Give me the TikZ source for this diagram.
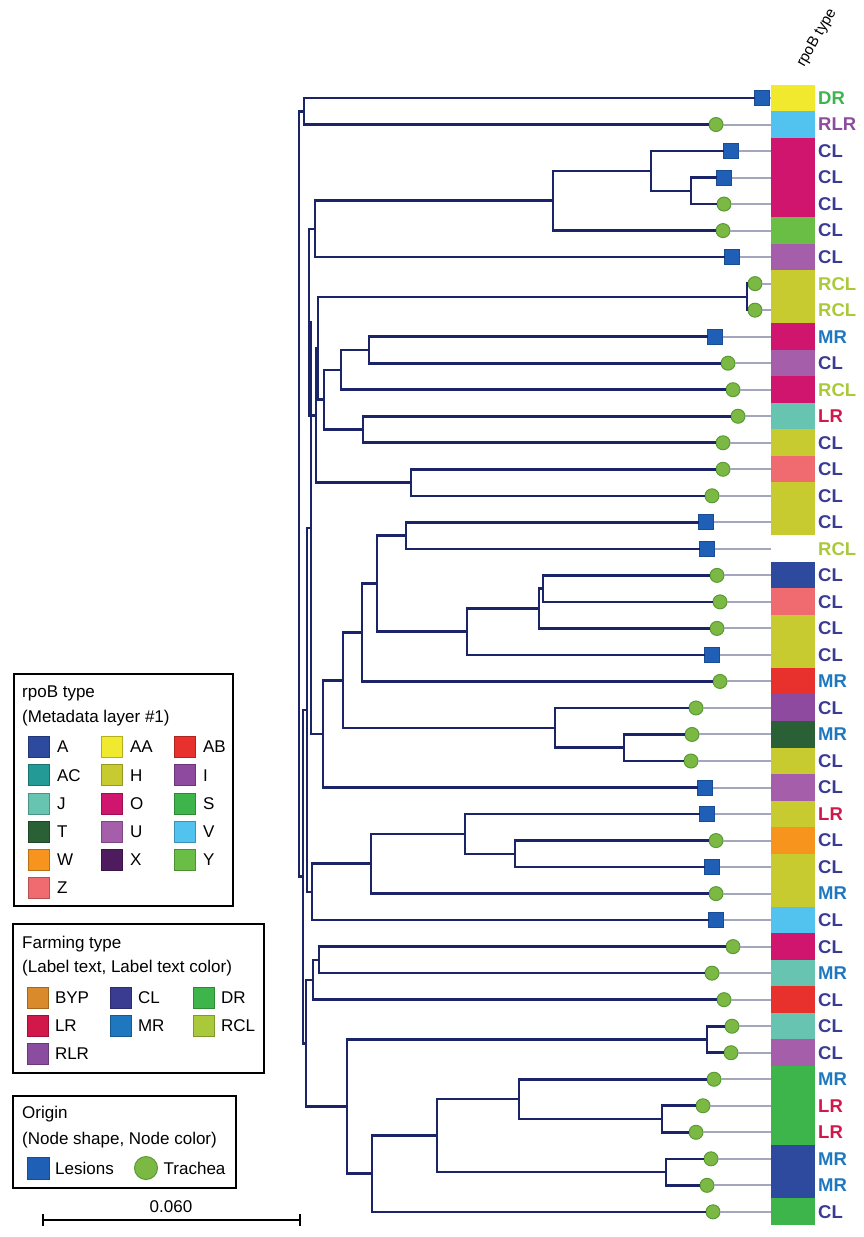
\documentclass[tikz,border=0pt]{standalone}
\usepackage{fontspec}
\setmainfont{Liberation Sans}
\usetikzlibrary{positioning}

% rpoB type colours
\definecolor{rA}{HTML}{2E4A9E}
\definecolor{rAA}{HTML}{F0E92E}
\definecolor{rAB}{HTML}{E8302C}
\definecolor{rAC}{HTML}{239A96}
\definecolor{rH}{HTML}{C8CB2F}
\definecolor{rI}{HTML}{8E4A9E}
\definecolor{rJ}{HTML}{66C4B0}
\definecolor{rO}{HTML}{D0156E}
\definecolor{rS}{HTML}{3DB54A}
\definecolor{rT}{HTML}{2A6035}
\definecolor{rU}{HTML}{A55FAA}
\definecolor{rV}{HTML}{52C3EF}
\definecolor{rW}{HTML}{F7941D}
\definecolor{rX}{HTML}{4D1B5E}
\definecolor{rY}{HTML}{6ABD45}
\definecolor{rZ}{HTML}{F06B6F}
% farming type colours
\definecolor{fBYP}{HTML}{D98A2B}
\definecolor{fCL}{HTML}{3A3C91}
\definecolor{fDR}{HTML}{3DB54A}
\definecolor{fLR}{HTML}{D2174B}
\definecolor{fMR}{HTML}{1E77BF}
\definecolor{fRCL}{HTML}{AAC93A}
\definecolor{fRLR}{HTML}{8B4D9F}
% tree
\definecolor{treeblue}{HTML}{1B2468}
\definecolor{stemgrey}{HTML}{A3A6BD}
\definecolor{trachgreen}{HTML}{7CB944}
\definecolor{trachedge}{HTML}{5A9A34}
\definecolor{lesblue}{HTML}{1F5FB5}
\definecolor{lesedge}{HTML}{184C94}

\tikzset{
  branch/.style = {draw=treeblue, line width=2.6pt},
  stem/.style = {draw=stemgrey, line width=2pt},
  trachea/.style = {circle, fill=trachgreen, draw=trachedge, line width=1pt,
                    minimum size=#1, inner sep=0pt, outer sep=0pt},
  trachea/.default = 14pt,
  lesion/.style = {rectangle, fill=lesblue, draw=lesedge, line width=0.8pt,
                   minimum size=#1, inner sep=0pt, outer sep=0pt},
  lesion/.default = 15pt,
  cell/.style = {rectangle, fill=#1, minimum width=44pt, minimum height=27pt,
                 inner sep=0pt, outer sep=0pt},
  farm/.style = {anchor=west, text=#1, inner sep=0pt, xshift=3pt,
                 font=\fontsize{18.5}{18.5}\selectfont\bfseries},
  swatch/.style = {rectangle, fill=#1, draw=#1!75!black, line width=0.6pt,
                   minimum size=21pt, inner sep=0pt},
  legtext/.style = {anchor=west, inner sep=0pt, font=\fontsize{17}{17}\selectfont},
  legbox/.style = {draw=black, line width=1.2pt}
}

\begin{document}
\begin{tikzpicture}[x=1pt, y=-1pt]
	\def \h{26.52}
	\def \yo{71.48}
	\useasboundingbox (0,0) rectangle (863,1237);

	% row: number, tip x, origin, rpoB colour, farming label, label colour
	\def\leaf#1#2#3#4#5#6{%
		\node[#3] (r#1) at (#2,\yo+#1*\h) {};
		\node[cell=#4] (b#1) at (793,\yo+#1*\h) {};
		\draw[stem] (r#1) -- (b#1.west);
		\node[farm=#6] (f#1) at (b#1.east) {#5};
	}

	\node[rotate=60, font=\fontsize{15}{15}\selectfont] (hdr) at (817,38) {rpoB type};

	% Leaves
	\leaf{1}{762}{lesion}{rAA}{DR}{fDR}
	\leaf{2}{716}{trachea}{rV}{RLR}{fRLR}
	\leaf{3}{731}{lesion}{rO}{CL}{fCL}
	\leaf{4}{724}{lesion}{rO}{CL}{fCL}
	\leaf{5}{724}{trachea}{rO}{CL}{fCL}
	\leaf{6}{723}{trachea}{rY}{CL}{fCL}
	\leaf{7}{732}{lesion}{rU}{CL}{fCL}
	\leaf{8}{755}{trachea}{rH}{RCL}{fRCL}
	\leaf{9}{755}{trachea}{rH}{RCL}{fRCL}
	\leaf{10}{715}{lesion}{rO}{MR}{fMR}
	\leaf{11}{728}{trachea}{rU}{CL}{fCL}
	\leaf{12}{733}{trachea}{rO}{RCL}{fRCL}
	\leaf{13}{738}{trachea}{rJ}{LR}{fLR}
	\leaf{14}{723}{trachea}{rH}{CL}{fCL}
	\leaf{15}{723}{trachea}{rZ}{CL}{fCL}
	\leaf{16}{712}{trachea}{rH}{CL}{fCL}
	\leaf{17}{706}{lesion}{rH}{CL}{fCL}
	\leaf{18}{707}{lesion}{white}{RCL}{fRCL}
	\leaf{19}{717}{trachea}{rA}{CL}{fCL}
	\leaf{20}{720}{trachea}{rZ}{CL}{fCL}
	\leaf{21}{717}{trachea}{rH}{CL}{fCL}
	\leaf{22}{712}{lesion}{rH}{CL}{fCL}
	\leaf{23}{720}{trachea}{rAB}{MR}{fMR}
	\leaf{24}{696}{trachea}{rI}{CL}{fCL}
	\leaf{25}{692}{trachea}{rT}{MR}{fMR}
	\leaf{26}{691}{trachea}{rH}{CL}{fCL}
	\leaf{27}{705}{lesion}{rU}{CL}{fCL}
	\leaf{28}{707}{lesion}{rH}{LR}{fLR}
	\leaf{29}{716}{trachea}{rW}{CL}{fCL}
	\leaf{30}{712}{lesion}{rH}{CL}{fCL}
	\leaf{31}{716}{trachea}{rH}{MR}{fMR}
	\leaf{32}{716}{lesion}{rV}{CL}{fCL}
	\leaf{33}{733}{trachea}{rO}{CL}{fCL}
	\leaf{34}{712}{trachea}{rJ}{MR}{fMR}
	\leaf{35}{724}{trachea}{rAB}{CL}{fCL}
	\leaf{36}{732}{trachea}{rJ}{CL}{fCL}
	\leaf{37}{731}{trachea}{rU}{CL}{fCL}
	\leaf{38}{714}{trachea}{rS}{MR}{fMR}
	\leaf{39}{703}{trachea}{rS}{LR}{fLR}
	\leaf{40}{696}{trachea}{rS}{LR}{fLR}
	\leaf{41}{711}{trachea}{rA}{MR}{fMR}
	\leaf{42}{707}{trachea}{rA}{MR}{fMR}
	\leaf{43}{713}{trachea}{rS}{CL}{fCL}

	% Internal nodes
	\coordinate (n304) at (304,\yo+1.5*\h);
	\coordinate (n691) at (691,\yo+4.5*\h);
	\coordinate (n651) at (651,\yo+3.75*\h);
	\coordinate (n553) at (553,\yo+4.875*\h);
	\coordinate (n315) at (315,\yo+5.9375*\h);
	\coordinate (n747) at (747,\yo+8.5*\h);
	\coordinate (n369) at (369,\yo+10.5*\h);
	\coordinate (n341) at (341,\yo+11.25*\h);
	\coordinate (n363) at (363,\yo+13.5*\h);
	\coordinate (n324) at (324,\yo+12.375*\h);
	\coordinate (n318) at (318,\yo+10.4375*\h);
	\coordinate (n411) at (411,\yo+15.5*\h);
	\coordinate (n316) at (316,\yo+12.969*\h);
	\coordinate (n309) at (309,\yo+9.453*\h);
	\coordinate (n406) at (406,\yo+17.5*\h);
	\coordinate (n543) at (543,\yo+19.5*\h);
	\coordinate (n539) at (539,\yo+20.25*\h);
	\coordinate (n467) at (467,\yo+21.125*\h);
	\coordinate (n377) at (377,\yo+19.3125*\h);
	\coordinate (n362) at (362,\yo+21.156*\h);
	\coordinate (n624) at (624,\yo+25.5*\h);
	\coordinate (n555) at (555,\yo+24.75*\h);
	\coordinate (n343) at (343,\yo+22.953*\h);
	\coordinate (n323) at (323,\yo+24.977*\h);
	\coordinate (n311) at (311,\yo+17.215*\h);
	\coordinate (n515) at (515,\yo+29.5*\h);
	\coordinate (n465) at (465,\yo+28.75*\h);
	\coordinate (n371) at (371,\yo+29.875*\h);
	\coordinate (n312) at (312,\yo+30.9375*\h);
	\coordinate (n307) at (307,\yo+24.076*\h);
	\coordinate (n319) at (319,\yo+33.5*\h);
	\coordinate (n313) at (313,\yo+34.25*\h);
	\coordinate (n707) at (707,\yo+36.5*\h);
	\coordinate (n662) at (662,\yo+39.5*\h);
	\coordinate (n519) at (519,\yo+38.75*\h);
	\coordinate (n666) at (666,\yo+41.5*\h);
	\coordinate (n437) at (437,\yo+40.125*\h);
	\coordinate (n372) at (372,\yo+41.5625*\h);
	\coordinate (n347) at (347,\yo+39.031*\h);
	\coordinate (n306) at (306,\yo+36.641*\h);
	\coordinate (n303) at (303,\yo+30.358*\h);
	\coordinate (n299) at (299,\yo+15.929*\h);

	% Branches (rows 1-2)
	\draw[branch] (r1) -| (n304) |- (r2);
	% Branches (rows 3-7)
	\draw[branch] (r4) -| (n691) |- (r5);
	\draw[branch] (r3) -| (n651) |- (n691);
	\draw[branch] (n651) -| (n553) |- (r6);
	\draw[branch] (n553) -| (n315) |- (r7);
	% Branches (rows 8-16)
	\draw[branch] (r8) -| (n747) |- (r9);
	\draw[branch] (r10) -| (n369) |- (r11);
	\draw[branch] (n369) -| (n341) |- (r12);
	\draw[branch] (r13) -| (n363) |- (r14);
	\draw[branch] (n341) -| (n324) |- (n363);
	\draw[branch] (n747) -| (n318) |- (n324);
	\draw[branch] (r15) -| (n411) |- (r16);
	\draw[branch] (n318) -| (n316) |- (n411);
	\draw[branch] (n315) -| (n309) |- (n316);
	% Branches (rows 17-27)
	\draw[branch] (r17) -| (n406) |- (r18);
	\draw[branch] (r19) -| (n543) |- (r20);
	\draw[branch] (n543) -| (n539) |- (r21);
	\draw[branch] (n539) -| (n467) |- (r22);
	\draw[branch] (n406) -| (n377) |- (n467);
	\draw[branch] (n377) -| (n362) |- (r23);
	\draw[branch] (r25) -| (n624) |- (r26);
	\draw[branch] (r24) -| (n555) |- (n624);
	\draw[branch] (n362) -| (n343) |- (n555);
	\draw[branch] (n343) -| (n323) |- (r27);
	\draw[branch] (n309) -| (n311) |- (n323);
	% Branches (rows 28-32)
	\draw[branch] (r29) -| (n515) |- (r30);
	\draw[branch] (r28) -| (n465) |- (n515);
	\draw[branch] (n465) -| (n371) |- (r31);
	\draw[branch] (n371) -| (n312) |- (r32);
	\draw[branch] (n311) -| (n307) |- (n312);
	% Branches (rows 33-43)
	\draw[branch] (r33) -| (n319) |- (r34);
	\draw[branch] (n319) -| (n313) |- (r35);
	\draw[branch] (r36) -| (n707) |- (r37);
	\draw[branch] (r39) -| (n662) |- (r40);
	\draw[branch] (r38) -| (n519) |- (n662);
	\draw[branch] (r41) -| (n666) |- (r42);
	\draw[branch] (n519) -| (n437) |- (n666);
	\draw[branch] (n437) -| (n372) |- (r43);
	\draw[branch] (n707) -| (n347) |- (n372);
	\draw[branch] (n313) -| (n306) |- (n347);
	% Trunk
	\draw[branch] (n307) -| (n303) |- (n306);
	\draw[branch] (n304) -| (n299) |- (n303);

	% Legend: rpoB type
	\draw[legbox] (14,674) rectangle (233,906);
	\node[legtext] (lr1) at (22,693) {rpoB type};
	\node[legtext] (lr2) at (22,718) {(Metadata layer \#1)};
	\node[swatch=rA]  (sA)  at (39,747) {};    \node[legtext, right=7pt of sA]  (tA)  {A};
	\node[swatch=rAA] (sAA) at (112,747) {};   \node[legtext, right=7pt of sAA] (tAA) {AA};
	\node[swatch=rAB] (sAB) at (185,747) {};   \node[legtext, right=7pt of sAB] (tAB) {AB};
	\node[swatch=rAC] (sAC) at (39,775.2) {};  \node[legtext, right=7pt of sAC] (tAC) {AC};
	\node[swatch=rH]  (sH)  at (112,775.2) {}; \node[legtext, right=7pt of sH]  (tH)  {H};
	\node[swatch=rI]  (sI)  at (185,775.2) {}; \node[legtext, right=7pt of sI]  (tI)  {I};
	\node[swatch=rJ]  (sJ)  at (39,803.4) {};  \node[legtext, right=7pt of sJ]  (tJ)  {J};
	\node[swatch=rO]  (sO)  at (112,803.4) {}; \node[legtext, right=7pt of sO]  (tO)  {O};
	\node[swatch=rS]  (sS)  at (185,803.4) {}; \node[legtext, right=7pt of sS]  (tS)  {S};
	\node[swatch=rT]  (sT)  at (39,831.6) {};  \node[legtext, right=7pt of sT]  (tT)  {T};
	\node[swatch=rU]  (sU)  at (112,831.6) {}; \node[legtext, right=7pt of sU]  (tU)  {U};
	\node[swatch=rV]  (sV)  at (185,831.6) {}; \node[legtext, right=7pt of sV]  (tV)  {V};
	\node[swatch=rW]  (sW)  at (39,859.8) {};  \node[legtext, right=7pt of sW]  (tW)  {W};
	\node[swatch=rX]  (sX)  at (112,859.8) {}; \node[legtext, right=7pt of sX]  (tX)  {X};
	\node[swatch=rY]  (sY)  at (185,859.8) {}; \node[legtext, right=7pt of sY]  (tY)  {Y};
	\node[swatch=rZ]  (sZ)  at (39,888) {};    \node[legtext, right=7pt of sZ]  (tZ)  {Z};

	% Legend: farming type
	\draw[legbox] (13,924) rectangle (264,1073);
	\node[legtext] (lf1) at (22,944) {Farming type};
	\node[legtext] (lf2) at (22,968) {(Label text, Label text color)};
	\node[swatch=fBYP] (sBYP) at (38,998) {};   \node[legtext, right=6pt of sBYP] (tBYP) {BYP};
	\node[swatch=fCL]  (sCL)  at (121,998) {};  \node[legtext, right=6pt of sCL]  (tCL)  {CL};
	\node[swatch=fDR]  (sDR)  at (204,998) {};  \node[legtext, right=6pt of sDR]  (tDR)  {DR};
	\node[swatch=fLR]  (sLR)  at (38,1026) {};  \node[legtext, right=6pt of sLR]  (tLR)  {LR};
	\node[swatch=fMR]  (sMR)  at (121,1026) {}; \node[legtext, right=6pt of sMR]  (tMR)  {MR};
	\node[swatch=fRCL] (sRCL) at (204,1026) {}; \node[legtext, right=6pt of sRCL] (tRCL) {RCL};
	\node[swatch=fRLR] (sRLR) at (38,1054) {};  \node[legtext, right=6pt of sRLR] (tRLR) {RLR};

	% Legend: origin
	\draw[legbox] (13,1096) rectangle (236,1188);
	\node[legtext] (lo1) at (22,1114) {Origin};
	\node[legtext] (lo2) at (22,1140) {(Node shape, Node color)};
	\node[lesion=22pt] (sLes) at (38,1168) {};
	\node[legtext, right=6pt of sLes] (tLes) {Lesions};
	\node[trachea=23pt] (sTra) at (146,1168) {};
	\node[legtext, right=6pt of sTra] (tTra) {Trachea};

	% Scale bar
	\coordinate (sbl) at (43,1220);
	\coordinate (sbr) at (300,1220);
	\draw[line width=1.2pt] (sbl) -- (sbr);
	\draw[line width=1.2pt] ([yshift=6pt]sbl) -- ([yshift=-6pt]sbl);
	\draw[line width=1.2pt] ([yshift=6pt]sbr) -- ([yshift=-6pt]sbr);
	\node[legtext, anchor=center] (sbt) at (171,1207) {0.060};

\end{tikzpicture}
\end{document}
